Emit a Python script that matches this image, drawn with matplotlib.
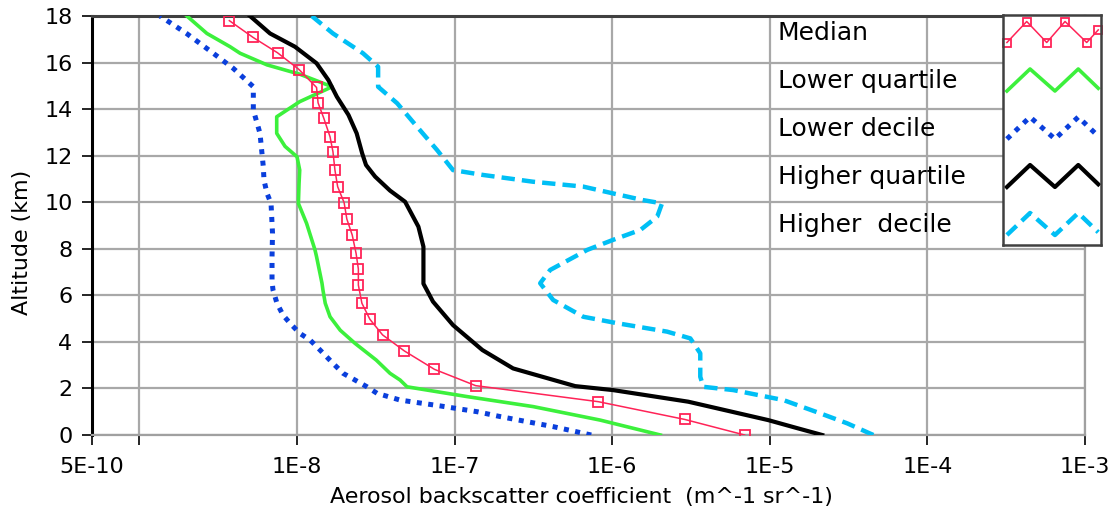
import matplotlib
matplotlib.use("Agg")
import matplotlib.pyplot as plt
import numpy as np

plt.rcParams['font.family'] = ['DejaVu Sans']

# ---------------- data ----------------
median_alt = [0, 0.67, 1.43, 2.12, 2.82, 3.61, 4.30, 4.97, 5.66, 6.44, 7.13, 7.8, 8.59,
              9.28, 9.98, 10.67, 11.38, 12.17, 12.81, 13.6, 14.27, 14.93, 15.7, 16.42,
              17.08, 17.8]
median_val = [6.92e-6, 2.88e-6, 8.18e-7, 1.36e-7, 7.45e-8, 4.80e-8, 3.49e-8, 2.90e-8,
              2.58e-8, 2.45e-8, 2.45e-8, 2.37e-8, 2.24e-8, 2.07e-8, 1.99e-8, 1.81e-8,
              1.74e-8, 1.69e-8, 1.62e-8, 1.48e-8, 1.36e-8, 1.33e-8, 1.03e-8, 7.52e-9,
              5.26e-9, 3.72e-9]

lq_alt = [0, 0.64, 1.22, 1.65, 2.07, 2.36, 2.65, 3.22, 3.94, 4.5, 5.08, 5.66, 6.23, 6.52,
          7.66, 7.95, 9.09, 9.95, 10.81, 11.38, 11.95, 12.4, 12.96, 13.67, 14.32, 14.96,
          15.5, 15.9, 16.4, 16.68, 17.25, 18.0]
lq_val = [2.02e-6, 8.39e-7, 3.15e-7, 1.20e-7, 4.99e-8, 4.51e-8, 3.89e-8, 3.18e-8, 2.33e-8,
          1.88e-8, 1.62e-8, 1.51e-8, 1.46e-8, 1.44e-8, 1.33e-8, 1.30e-8, 1.15e-8, 1.02e-8,
          1.03e-8, 1.04e-8, 1.00e-8, 8.39e-9, 7.43e-9, 7.43e-9, 1.04e-8, 1.67e-8, 1.04e-8,
          6.45e-9, 4.35e-9, 3.76e-9, 2.68e-9, 2.00e-9]

ld_alt = [0, 0.36, 0.79, 1.0, 1.25, 1.5, 1.79, 2.07, 2.65, 3.08, 3.65, 4.08, 4.37, 4.8,
          5.15, 5.66, 6.23, 6.59, 7.66, 8.66, 9.95, 10.38, 10.95, 11.52, 12.96, 13.96,
          14.96, 15.75, 16.4, 17.25, 18.0]
ld_val = [7.36e-7, 4.22e-7, 1.95e-7, 1.39e-7, 8.09e-8, 4.51e-8, 3.22e-8, 2.78e-8, 1.96e-8,
          1.69e-8, 1.40e-8, 1.21e-8, 1.04e-8, 9.03e-9, 8.15e-9, 7.46e-9, 7.04e-9, 6.94e-9,
          6.94e-9, 6.99e-9, 6.84e-9, 6.45e-9, 6.17e-9, 6.11e-9, 5.82e-9, 5.28e-9, 5.28e-9,
          3.94e-9, 2.94e-9, 1.99e-9, 1.35e-9]

hq_alt = [0, 0.29, 0.64, 1.43, 1.93, 2.1, 2.86, 3.65, 4.72, 5.73, 6.5, 7.09, 8.09, 8.95,
          10.02, 10.5, 11.1, 11.6, 12.1, 12.96, 13.75, 14.53, 15.25, 15.97, 16.68, 17.25,
          18.0]
hq_val = [2.15e-5, 1.50e-5, 9.77e-6, 3.04e-6, 1.01e-6, 5.82e-7, 2.35e-7, 1.50e-7, 9.77e-8,
          7.29e-8, 6.34e-8, 6.34e-8, 6.34e-8, 5.89e-8, 4.85e-8, 3.89e-8, 3.13e-8, 2.74e-8,
          2.59e-8, 2.39e-8, 2.12e-8, 1.79e-8, 1.58e-8, 1.33e-8, 9.7e-9, 6.74e-9, 5.03e-9]

hd_alt = [0, 0.5, 0.93, 1.5, 1.93, 2.07, 2.5, 3.51, 4.15, 4.44, 4.8, 5.08, 5.8, 6.52, 7.09,
          7.95, 8.38, 8.81, 9.38, 9.95, 10.09, 10.38, 10.67, 10.88, 11.17, 11.38, 12.24,
          13.24, 14.25, 14.96, 15.82, 16.4, 17.25, 18.0]
hd_val = [4.54e-5, 3.10e-5, 2.09e-5, 1.22e-5, 5.86e-6, 3.79e-6, 3.62e-6, 3.62e-6, 3.13e-6,
          2.23e-6, 1.08e-6, 6.55e-7, 4.22e-7, 3.49e-7, 4.04e-7, 6.93e-7, 1.01e-6, 1.51e-6,
          1.93e-6, 2.07e-6, 1.57e-6, 1.01e-6, 6.55e-7, 3.15e-7, 1.52e-7, 9.77e-8, 7.74e-8,
          5.78e-8, 4.32e-8, 3.27e-8, 3.27e-8, 2.62e-8, 1.69e-8, 1.24e-8]

series_names = ['Median', 'Lower quartile', 'Lower decile', 'Higher quartile', 'Higher  decile']
x_ticks = [5e-10, 1e-9, 1e-8, 1e-7, 1e-6, 1e-5, 1e-4, 1e-3]
x_ticklabels = ['5E-10', '', '1E-8', '1E-7', '1E-6', '1E-5', '1E-4', '1E-3']
y_ticks = list(range(0, 19, 2))

# ---------------- styles ----------------
C_MED = '#ff2357'
C_LQ = '#3cf03c'
C_LD = '#0a3fdc'
C_HQ = '#000000'
C_HD = '#00bff5'
FS_TICK = 16
FS_LAB = 15.9
FS_LEG = 18

W, H = 1116, 523
fig = plt.figure(figsize=(W / 100, H / 100), dpi=100)
ax = fig.add_axes([92 / W, (H - 435) / H, (1085 - 92) / W, (435 - 16) / H])

ax.plot(hd_val, hd_alt, color=C_HD, lw=3.2, ls=(0, (3.0, 1.6)), zorder=3)
ax.plot(hq_val, hq_alt, color=C_HQ, lw=3.0, zorder=4)
ax.plot(ld_val, ld_alt, color=C_LD, lw=3.6, ls=(0, (1.0, 1.3)), zorder=3)
ax.plot(lq_val, lq_alt, color=C_LQ, lw=2.6, zorder=3)
ax.plot(median_val, median_alt, color=C_MED, lw=1.1, marker='s', ms=7, mfc='none',
        mec=C_MED, mew=1.3, zorder=5)

ax.set_xscale('log')
ax.set_xlim(5e-10, 1e-3)
ax.set_ylim(0, 18)
ax.set_xticks(x_ticks)
ax.set_xticklabels(x_ticklabels)
ax.xaxis.set_minor_locator(matplotlib.ticker.NullLocator())
ax.set_yticks(y_ticks)
ax.grid(True, color='#a8a8a8', lw=1.6, zorder=0)
ax.set_axisbelow(True)
ax.tick_params(axis='both', labelsize=FS_TICK, direction='out', length=7, width=1.2,
               color='black')
ax.tick_params(axis='x', pad=9)
ax.tick_params(axis='y', pad=7)

ax.spines['left'].set_color('black')
ax.spines['left'].set_linewidth(2.2)
ax.spines['top'].set_color('#404040')
ax.spines['top'].set_linewidth(2.2)
ax.spines['bottom'].set_color('#a0a0a0')
ax.spines['bottom'].set_linewidth(1.6)
ax.spines['right'].set_color('#a0a0a0')
ax.spines['right'].set_linewidth(1.6)

ax.set_xlabel('Aerosol backscatter coefficient  (m^-1 sr^-1)', fontsize=FS_LAB)
ax.set_ylabel('Altitude (km)', fontsize=FS_LAB)
ax.xaxis.set_label_coords(0.493, -0.125)
ax.yaxis.set_label_coords(-0.060, 0.46)

# ---------------- legend ----------------
label_y = [33, 81, 129, 177, 225]
for name, yy in zip(series_names, label_y):
    fig.text(778 / W, (H - yy) / H, name, fontsize=FS_LEG, ha='left', va='center')

lax = fig.add_axes([1003 / W, (H - 245) / H, 98 / W, 230 / H])
lax.set_xlim(0, 1)
lax.set_ylim(230, 0)
lax.set_xticks([])
lax.set_yticks([])
for s in lax.spines.values():
    s.set_color('#404040')
    s.set_linewidth(1.8)
lax.set_facecolor('white')

zx = [0.04, 0.276, 0.53, 0.768, 0.972]
zy = [1, -1, 1, -1, 0.75]
mzx = [0.04, 0.242, 0.446, 0.633, 0.854, 0.972]
mzy = [1, -1, 1, -1, 1, -0.2]
styles = [
    dict(color=C_MED, lw=1.1, marker='s', ms=6, mfc='none', mec=C_MED, mew=1.3),
    dict(color=C_LQ, lw=2.6),
    dict(color=C_LD, lw=3.6, ls=(0, (1.0, 1.3))),
    dict(color=C_HQ, lw=3.0),
    dict(color=C_HD, lw=3.2, ls=(0, (3.0, 1.6))),
]
for i, st in enumerate(styles):
    cy = 17 + 48 * i
    if i == 0:
        lax.plot(mzx, [cy + 10.5 * v for v in mzy], clip_on=False, **st)
    else:
        lax.plot(zx, [cy + 11 * v for v in zy], clip_on=False, **st)

fig.savefig('out.png', dpi=100)
